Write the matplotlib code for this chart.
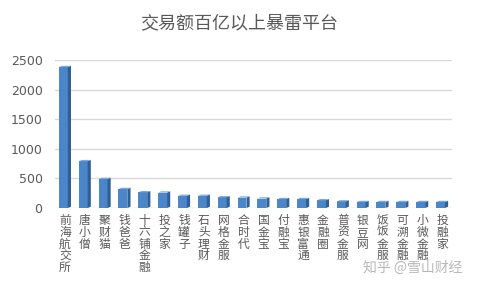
import numpy as np
import matplotlib
matplotlib.use("Agg")
import matplotlib.pyplot as plt
from matplotlib.patches import Polygon

plt.rcParams["font.family"] = ["Noto Sans CJK SC", "DejaVu Sans"]

# Platforms with >10bn turnover that collapsed
platforms = ["前海航交所", "唐小僧", "聚财猫", "钱爸爸", "十六铺金融", "投之家", "钱罐子",
             "石头理财", "网格金服", "合时代", "国金宝", "付融宝", "惠银富通", "金融圈",
             "普资金服", "银豆网", "饭饭金服", "可溯金融", "小微金融", "投融家"]
volume = [2380, 790, 490, 320, 265, 260, 205, 205, 180, 175,
          160, 150, 150, 130, 110, 100, 100, 100, 100, 100]
yticks = [0, 500, 1000, 1500, 2000, 2500]

W, H = 478, 288
fig = plt.figure(figsize=(W / 100, H / 100), dpi=100)
ax = fig.add_axes([55 / W, 1 - 208 / H, (452 - 55) / W, (208 - 60) / H])

x = np.arange(len(platforms))
bw = 0.45
side = 0.16
ax.set_xlim(-0.5, len(platforms) - 0.5)
ax.set_ylim(0, 2500)

for y in yticks:
    ax.axhline(y, color="#d9d9d9", lw=1, zorder=0)

front = "#4a86c8"
dark = "#2f5f97"
light = "#7aa8dc"
depth = 22  # in data units, top face height
for xi, v in zip(x, volume):
    x0 = xi - bw / 2 - side / 2
    ax.bar(x0 + bw / 2, v, width=bw, color=front, zorder=2, linewidth=0)
    ax.add_patch(Polygon([(x0 + bw, 0), (x0 + bw + side, depth), (x0 + bw + side, v + depth), (x0 + bw, v)],
                         closed=True, color=dark, lw=0, zorder=2))
    ax.add_patch(Polygon([(x0, v), (x0 + bw, v), (x0 + bw + side, v + depth), (x0 + side, v + depth)],
                         closed=True, color=light, lw=0, zorder=2))

ax.set_yticks(yticks)
ax.set_yticklabels([str(t) for t in yticks], fontsize=9, color="#595959", family="DejaVu Sans")
ax.tick_params(axis="y", length=0, pad=9)
ax.set_xticks([])
for s in ax.spines.values():
    s.set_visible(False)

for xi, name in zip(x, platforms):
    ax.text(xi, -100, "\n".join(name), ha="center", va="top", fontsize=8.5,
            color="#595959", linespacing=0.88)

fig.text(0.5, 1 - 23 / H, "交易额百亿以上暴雷平台", ha="center", va="center",
         fontsize=13, color="#595959")
# watermark
fig.text(413 / W, 1 - 268 / H, "知乎 @雪山财经", ha="center", va="center",
         fontsize=10, color="#b0b0b0", alpha=0.9)

fig.savefig("out.png", dpi=100)
